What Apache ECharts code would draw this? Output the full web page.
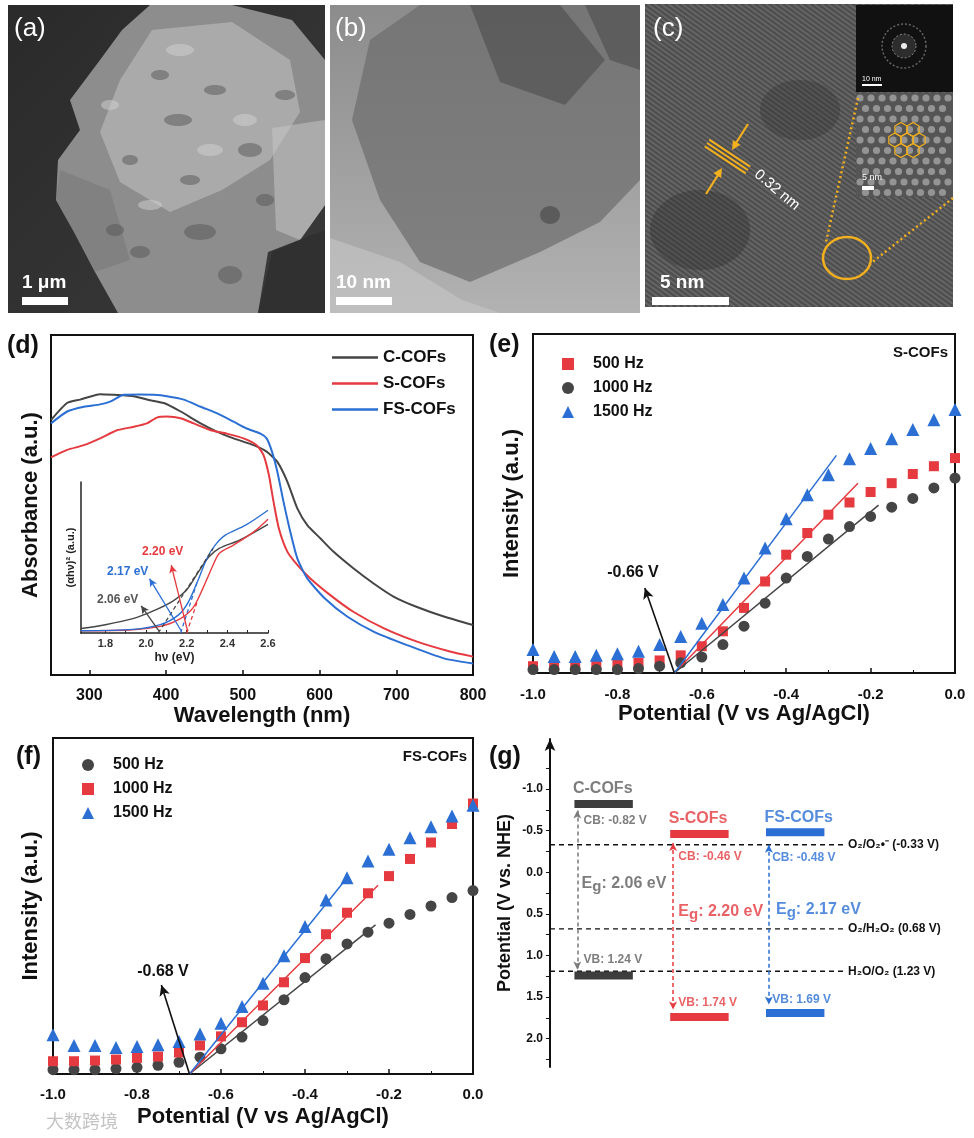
<!DOCTYPE html>
<html>
<head>
<meta charset="utf-8">
<title>COFs characterisation</title>
<script src="https://cdn.jsdelivr.net/npm/echarts@6.0.0/dist/echarts.min.js"></script>
<style>
  html, body { margin: 0; padding: 0; background: #fff; }
  #main { width: 974px; height: 1138px; }
</style>
</head>
<body>
<div id="main"></div>
<script>
const FONT = 'Arial, "Liberation Sans", sans-serif';
const RED = '#e53a3f', BLUE = '#2b6fd5', GRAY = '#454545', INK = '#111';

// ---- (d) UV-vis absorbance, wavelength (nm) vs absorbance (a.u.)
const wlC  = [250,271,288,314,332,358,375,397,419,445,466,488,514,531,545,558,571,584,601,618,644,670,697,727,762,800];
const absC = [0.75,0.80,0.81,0.826,0.824,0.82,0.81,0.80,0.775,0.74,0.716,0.696,0.676,0.657,0.627,0.569,0.49,0.441,0.402,0.363,0.314,0.27,0.23,0.20,0.172,0.147];
const wlS  = [250,271,293,314,336,358,375,388,401,419,436,458,479,501,518,527,534,540,547,558,571,588,614,644,684,727,770,800];
const absS = [0.64,0.662,0.676,0.696,0.72,0.73,0.74,0.757,0.76,0.755,0.74,0.72,0.71,0.696,0.676,0.647,0.588,0.51,0.431,0.363,0.324,0.284,0.235,0.186,0.137,0.098,0.069,0.054];
const wlFS  = [250,271,293,314,327,345,366,384,401,423,445,466,488,505,523,531,538,545,553,562,571,584,607,636,671,714,762,800];
const absFS = [0.74,0.775,0.789,0.796,0.804,0.824,0.825,0.824,0.82,0.81,0.789,0.77,0.745,0.725,0.71,0.696,0.657,0.598,0.51,0.42,0.343,0.284,0.225,0.172,0.127,0.088,0.049,0.034];

// inset: Tauc plot, hv (eV) vs (ahv)^2
const evC  = [1.68,1.8,1.935,2.03,2.13,2.2,2.26,2.31,2.36,2.46,2.6];
const tauC = [0.03,0.055,0.095,0.143,0.21,0.286,0.41,0.505,0.56,0.615,0.72];
const evS  = [1.68,1.935,2.07,2.16,2.23,2.28,2.33,2.36,2.43,2.53,2.6];
const tauS = [0.015,0.022,0.044,0.088,0.165,0.297,0.45,0.527,0.582,0.67,0.754];
const evFS  = [1.68,1.935,2.07,2.16,2.21,2.26,2.30,2.34,2.39,2.49,2.6];
const tauFS = [0.015,0.024,0.055,0.12,0.21,0.363,0.495,0.582,0.648,0.714,0.813];
const bandGaps = [2.06, 2.20, 2.17];            // C, S, FS
const tangentEnds = [[2.33, 0.56], [2.25, 0.2], [2.25, 0.33]];
const gapArrowTips = [[1.976, 0.18], [2.124, 0.45], [2.017, 0.36]];

// ---- (e)/(f) Mott-Schottky, potential (V vs Ag/AgCl)
const potentials = [-1.0,-0.95,-0.9,-0.85,-0.8,-0.75,-0.7,-0.65,-0.6,-0.55,-0.5,-0.45,-0.4,-0.35,-0.3,-0.25,-0.2,-0.15,-0.1,-0.05,0.0];
const s500  = [2.0,2.3,2.5,2.5,2.7,3.0,3.7,5.2,7.9,12.3,19.2,27.0,34.9,41.3,46.7,50.3,53.4,56.0,58.7,61.0,63.4];
const s1000 = [1.0,1.0,1.0,1.0,1.0,1.3,2.0,3.0,4.7,8.4,13.8,20.6,28.0,34.4,39.5,43.2,46.2,48.9,51.5,54.6,57.5];
const s1500 = [6.9,4.9,4.9,5.2,5.7,6.4,8.4,10.8,14.7,20.2,28.0,36.9,45.5,52.6,58.5,63.2,66.2,69.1,71.8,74.7,77.7];
const sOnset = -0.665;
const sFitEnds = { f500: [-0.230, 56.0], f1000: [-0.181, 49.5], f1500: [-0.281, 64.2] };
const sArrowTip = [-0.735, 25.1];

const fs500  = [1.3,1.3,1.3,1.6,2.0,2.6,3.5,5.0,7.5,11.0,15.9,22.1,28.7,34.3,38.7,42.2,44.9,47.5,50.0,52.5,54.6];
const fs1000 = [3.8,3.8,4.0,4.3,4.8,5.2,6.4,8.5,11.2,15.4,20.4,27.3,34.5,41.6,48.0,53.8,58.9,64.0,68.9,74.4,80.5];
const fs1500 = [11.7,8.5,8.5,7.9,8.2,8.7,9.7,11.9,15.1,20.1,27.0,35.2,43.9,51.8,58.4,63.4,66.9,70.3,73.6,76.8,80.0];
const fsOnset = -0.675;
const fsFitEnds = { f500: [-0.232, 44.4], f1000: [-0.226, 56.2], f1500: [-0.298, 58.7] };
const fsArrowTip = [-0.742, 26.5];

// ---- (g) band positions (V vs NHE)
const materials = ['C-COFs', 'S-COFs', 'FS-COFs'];
const cbLevels = [-0.82, -0.46, -0.48];
const vbLevels = [1.24, 1.74, 1.69];
const redoxLevels = [-0.33, 0.68, 1.19];
const redoxNames = ['O₂/O₂•⁻ (-0.33 V)', 'O₂/H₂O₂ (0.68 V)', 'H₂O/O₂ (1.23 V)'];
const arrowTop = [-0.74, -0.35, -0.33];
const arrowBottom = [1.17, 1.65, 1.59];
const cbLabelAt = [[0.79, -0.62], [1.78, -0.19], [2.76, -0.18]];
const egLabelAt = [[0.77, 0.14], [1.78, 0.47], [2.80, 0.45]];
const vbLabelAt = [[0.79, 1.05], [1.78, 1.565], [2.76, 1.53]];
const barColors = ['#3d3d3d', RED, BLUE];
const textColors = ['#5c5c5c', RED, BLUE];
const arrowColors = ['#7a7a7a', RED, BLUE];

const zip = (xs, ys) => xs.map((x, i) => [x, ys[i]]);

function txt(x, y, text, o = {}) {
  return { type: 'text', x, y, silent: true, rotation: o.rotation || 0, z: 50,
    style: { text, fill: o.color || INK, fontSize: o.size || 14, fontWeight: o.weight || 'bold',
      fontFamily: o.family || FONT, align: o.align || 'left', verticalAlign: o.valign || 'middle' } };
}
function poly(points, fill, opacity) {
  return { type: 'polygon', silent: true, shape: { points }, style: { fill, opacity: opacity == null ? 1 : opacity } };
}
function arrowHead(x1, y1, x2, y2, len, half, color) {
  const a = Math.atan2(y2 - y1, x2 - x1), c = Math.cos(a), s = Math.sin(a);
  const bx = x2 - c * len, by = y2 - s * len;
  return poly([[x2, y2], [bx - s * half, by + c * half], [bx + s * half, by - c * half]], color);
}

// micrograph stand-ins for (a), (b), (c)
function micrographs() {
  const g = [];
  // (a) SEM
  g.push({ type: 'rect', silent: true, shape: { x: 8, y: 5, width: 317, height: 308 },
    style: { fill: new echarts.graphic.LinearGradient(0, 0, 1, 1, [{ offset: 0, color: '#2a2a2a' }, { offset: 1, color: '#3a3a3a' }]) } });
  g.push(poly([[150,5],[232,5],[292,20],[325,60],[325,205],[300,240],[272,252],[258,313],[118,313],[95,272],[74,232],[56,200],[58,160],[80,130],[70,100],[100,60],[122,30]], '#8d8d8d'));
  g.push(poly([[152,30],[232,22],[290,60],[300,112],[270,160],[222,190],[170,212],[120,182],[100,132],[120,80]], '#b4b4b4', 0.75));
  g.push(poly([[272,128],[325,120],[325,205],[300,240],[276,230]], '#c4c4c4', 0.55));
  g.push(poly([[60,170],[110,190],[130,260],[95,272],[74,232],[56,200]], '#7a7a7a', 0.6));
  [[200,232,16,8],[140,252,10,6],[250,150,12,7],[178,120,14,6],[230,275,12,9],[115,230,9,6],[285,95,10,5],
   [160,75,9,5],[215,90,11,5],[130,160,8,5],[265,200,9,6],[190,180,10,5]].forEach(e =>
    g.push({ type: 'ellipse', silent: true, shape: { cx: e[0], cy: e[1], rx: e[2], ry: e[3] }, style: { fill: '#555', opacity: 0.5 } }));
  [[180,50,14,6],[245,120,12,6],[150,205,12,5],[210,150,13,6],[110,105,9,5]].forEach(e =>
    g.push({ type: 'ellipse', silent: true, shape: { cx: e[0], cy: e[1], rx: e[2], ry: e[3] }, style: { fill: '#d2d2d2', opacity: 0.5 } }));
  g.push(poly([[268,252],[325,230],[325,313],[258,313]], '#303030', 0.9));
  g.push({ type: 'rect', silent: true, shape: { x: 22, y: 297, width: 46, height: 8 }, style: { fill: '#fff' } });
  g.push(txt(22, 283, '1 μm', { color: '#fff', size: 19 }));
  g.push(txt(14, 29, '(a)', { color: '#fff', size: 26, weight: 'normal' }));

  // (b) TEM
  g.push({ type: 'rect', silent: true, shape: { x: 330, y: 5, width: 310, height: 308 },
    style: { fill: new echarts.graphic.LinearGradient(0, 0, 0, 1, [{ offset: 0, color: '#8c8c8c' }, { offset: 1, color: '#b2b2b2' }]) } });
  g.push(poly([[420,5],[640,5],[640,180],[600,222],[540,252],[470,282],[420,262],[380,200],[352,120],[370,40]], '#6c6c6c', 0.7));
  g.push(poly([[470,5],[560,5],[605,60],[565,105],[500,82]], '#3e3e3e', 0.45));
  g.push(poly([[585,5],[640,5],[640,70],[610,60]], '#444', 0.5));
  g.push(poly([[330,238],[400,262],[462,300],[500,313],[330,313]], '#c6c6c6', 0.6));
  g.push({ type: 'ellipse', silent: true, shape: { cx: 550, cy: 215, rx: 10, ry: 9 }, style: { fill: '#3a3a3a', opacity: 0.5 } });
  g.push({ type: 'rect', silent: true, shape: { x: 336, y: 297, width: 56, height: 8 }, style: { fill: '#fff' } });
  g.push(txt(336, 283, '10 nm', { color: '#fff', size: 19 }));
  g.push(txt(335, 29, '(b)', { color: '#fff', size: 26, weight: 'normal' }));

  // (c) HRTEM with lattice fringes
  const cx0 = 645, cy0 = 4, cw = 308, ch = 303, k = 0.72;
  g.push({ type: 'rect', silent: true, shape: { x: cx0, y: cy0, width: cw, height: ch }, style: { fill: '#4e4e4e' } });
  for (let b = cy0 - k * cw; b < cy0 + ch; b += 5) {
    let xa = Math.max(cx0 + (cy0 - b) / k, cx0), xb = Math.min(cx0 + (cy0 + ch - b) / k, cx0 + cw);
    if (xb <= xa) continue;
    g.push({ type: 'line', silent: true, shape: { x1: xa, y1: b + k * (xa - cx0), x2: xb, y2: b + k * (xb - cx0) },
      style: { stroke: 'rgba(255,255,255,0.14)', lineWidth: 1.6 } });
  }
  g.push({ type: 'ellipse', silent: true, shape: { cx: 700, cy: 230, rx: 50, ry: 40 }, style: { fill: '#2e2e2e', opacity: 0.35 } });
  g.push({ type: 'ellipse', silent: true, shape: { cx: 800, cy: 110, rx: 40, ry: 30 }, style: { fill: '#2e2e2e', opacity: 0.3 } });
  // FFT inset
  g.push({ type: 'rect', silent: true, shape: { x: 856, y: 5, width: 97, height: 87 }, style: { fill: '#111' } });
  g.push({ type: 'circle', silent: true, shape: { cx: 904, cy: 46, r: 22 }, style: { fill: 'none', stroke: 'rgba(255,255,255,0.35)', lineDash: [2, 2], lineWidth: 1.5 } });
  g.push({ type: 'circle', silent: true, shape: { cx: 904, cy: 46, r: 12 }, style: { fill: 'rgba(255,255,255,0.12)', stroke: 'rgba(255,255,255,0.45)', lineDash: [2, 2] } });
  g.push({ type: 'circle', silent: true, shape: { cx: 904, cy: 46, r: 3 }, style: { fill: 'rgba(255,255,255,0.9)' } });
  g.push({ type: 'rect', silent: true, shape: { x: 862, y: 84, width: 20, height: 2 }, style: { fill: '#fff' } });
  g.push(txt(862, 79, '10 nm', { color: '#fff', size: 7, weight: 'normal' }));
  // filtered lattice inset
  g.push({ type: 'rect', silent: true, shape: { x: 856, y: 93, width: 97, height: 104 }, style: { fill: '#555' } });
  for (let r = 0; r < 10; r++) {
    for (let x = 860 + (r % 2) * 5.5; x < 952; x += 11) {
      g.push({ type: 'circle', silent: true, shape: { cx: x, cy: 98 + r * 10.5, r: 3.6 }, style: { fill: 'rgba(235,235,235,0.42)' } });
    }
  }
  const hx = 907, hy = 140, hr = 7;
  const centres = [[hx, hy]];
  for (let i = 0; i < 6; i++) centres.push([hx + Math.sqrt(3) * hr * Math.cos(i * Math.PI / 3), hy + Math.sqrt(3) * hr * Math.sin(i * Math.PI / 3)]);
  centres.forEach(c => {
    const pts = [];
    for (let j = 0; j < 6; j++) pts.push([c[0] + hr * Math.cos(Math.PI / 6 + j * Math.PI / 3), c[1] + hr * Math.sin(Math.PI / 6 + j * Math.PI / 3)]);
    g.push({ type: 'polygon', silent: true, shape: { points: pts }, style: { fill: 'none', stroke: '#f2b01e', lineWidth: 1.2 } });
  });
  g.push({ type: 'rect', silent: true, shape: { x: 862, y: 186, width: 12, height: 4 }, style: { fill: '#fff' } });
  g.push(txt(862, 178, '5 nm', { color: '#fff', size: 9, weight: 'normal' }));
  // yellow annotations
  const Y = '#f2b01e';
  g.push({ type: 'ellipse', silent: true, shape: { cx: 847, cy: 258, rx: 24, ry: 21 }, style: { fill: 'none', stroke: Y, lineWidth: 2.5 } });
  g.push({ type: 'line', silent: true, shape: { x1: 858, y1: 98, x2: 826, y2: 242 }, style: { stroke: Y, lineWidth: 2.5, lineDash: [2, 3] } });
  g.push({ type: 'line', silent: true, shape: { x1: 953, y1: 198, x2: 870, y2: 264 }, style: { stroke: Y, lineWidth: 2.5, lineDash: [2, 3] } });
  const nx = -0.55, ny = 0.835;
  [-4, 0, 4].forEach(o => g.push({ type: 'line', silent: true,
    shape: { x1: 707 + nx * o, y1: 143 + ny * o, x2: 748 + nx * o, y2: 170 + ny * o }, style: { stroke: Y, lineWidth: 2 } }));
  g.push({ type: 'line', silent: true, shape: { x1: 748, y1: 124, x2: 736, y2: 143 }, style: { stroke: Y, lineWidth: 2.2 } });
  g.push(arrowHead(748, 124, 732, 150, 9, 4.5, Y));
  g.push({ type: 'line', silent: true, shape: { x1: 706, y1: 194, x2: 718, y2: 175 }, style: { stroke: Y, lineWidth: 2.2 } });
  g.push(arrowHead(706, 194, 722, 168, 9, 4.5, Y));
  g.push(txt(777, 190, '0.32 nm', { color: '#fff', size: 15, weight: 'normal', align: 'center', rotation: -0.7 }));
  g.push({ type: 'rect', silent: true, shape: { x: 652, y: 297, width: 77, height: 8 }, style: { fill: '#fff' } });
  g.push(txt(660, 283, '5 nm', { color: '#fff', size: 19 }));
  g.push(txt(653, 29, '(c)', { color: '#fff', size: 26, weight: 'normal' }));
  return g;
}

const annotations = [
  txt(7, 346, '(d)', { size: 25 }),
  txt(489, 345, '(e)', { size: 25 }),
  txt(16, 757, '(f)', { size: 25 }),
  txt(489, 757, '(g)', { size: 25 }),
  txt(97, 600, '2.06 eV', { color: '#555', size: 12 }),
  txt(107, 572, '2.17 eV', { color: BLUE, size: 12 }),
  txt(142, 552, '2.20 eV', { color: RED, size: 12 }),
  txt(948, 353, 'S-COFs', { size: 15, align: 'right' }),
  txt(633, 573, '-0.66 V', { size: 16, align: 'center' }),
  txt(467, 757, 'FS-COFs', { size: 15, align: 'right' }),
  txt(163, 972, '-0.68 V', { size: 16, align: 'center' }),
  txt(46, 1121, '大数跨境', { color: 'rgba(185,185,185,0.85)', size: 18, weight: 'normal', family: '"Noto Sans CJK SC"' })
];

const axisName = { color: INK, fontSize: 22, fontWeight: 'bold', fontFamily: FONT };
const tickLabel = { color: INK, fontSize: 15, fontWeight: 'bold', fontFamily: FONT };
const boxGrid = { show: true, borderColor: INK, borderWidth: 2, backgroundColor: 'transparent' };

function plainY(gridIndex, name, gap, max) {
  return { gridIndex, type: 'value', min: 0, max, name, nameLocation: 'middle', nameGap: gap,
    nameTextStyle: axisName, axisLine: { show: true, lineStyle: { color: INK, width: 2 } },
    axisTick: { show: false }, axisLabel: { show: false }, splitLine: { show: false } };
}
function potentialX(gridIndex, labelMargin, nameGap) {
  return { gridIndex, type: 'value', min: -1.0, max: 0.0, interval: 0.2,
    name: 'Potential (V vs Ag/AgCl)', nameLocation: 'middle', nameGap, nameTextStyle: axisName,
    axisLine: { lineStyle: { color: INK, width: 2 } },
    axisTick: { inside: true, length: 5, lineStyle: { color: INK, width: 1.5 } },
    minorTick: { show: true, splitNumber: 2, length: 3, lineStyle: { color: INK } },
    axisLabel: { ...tickLabel, margin: labelMargin, formatter: v => v.toFixed(1) }, splitLine: { show: false } };
}

function scatter(name, gi, ys, symbol, size, color) {
  return { name, type: 'scatter', xAxisIndex: gi, yAxisIndex: gi, data: zip(potentials, ys),
    symbol, symbolSize: size, itemStyle: { color, opacity: 1 }, z: 3 };
}
function fit(name, gi, onset, end, color, extra) {
  return Object.assign({ name, type: 'line', xAxisIndex: gi, yAxisIndex: gi, data: [[onset, 0], end],
    symbol: 'none', lineStyle: { color, width: 1.5 }, z: 4 }, extra || {});
}
function onsetArrow(onset, tip) {
  return { silent: true, symbol: ['none', 'arrow'], symbolSize: [8, 11], label: { show: false },
    lineStyle: { color: INK, width: 1.6, type: 'solid' }, data: [[{ coord: [onset, 0] }, { coord: tip }]] };
}

const gXMin = 0.44, gXMax = 3.52, bandBarWidth = 0.61, arrowShift = -0.275;

const series = [
  // (d) main spectra
  { name: 'C-COFs', type: 'line', xAxisIndex: 0, yAxisIndex: 0, data: zip(wlC, absC), symbol: 'none', smooth: 0.2, lineStyle: { color: GRAY, width: 2 }, itemStyle: { color: GRAY } },
  { name: 'S-COFs', type: 'line', xAxisIndex: 0, yAxisIndex: 0, data: zip(wlS, absS), symbol: 'none', smooth: 0.2, lineStyle: { color: RED, width: 2 }, itemStyle: { color: RED } },
  { name: 'FS-COFs', type: 'line', xAxisIndex: 0, yAxisIndex: 0, data: zip(wlFS, absFS), symbol: 'none', smooth: 0.2, lineStyle: { color: BLUE, width: 2 }, itemStyle: { color: BLUE } },
  // (d) inset Tauc plot
  { name: 'C-COFs', type: 'line', xAxisIndex: 1, yAxisIndex: 1, data: zip(evC, tauC), symbol: 'none', smooth: 0.3, lineStyle: { color: GRAY, width: 1.4 } },
  { name: 'S-COFs', type: 'line', xAxisIndex: 1, yAxisIndex: 1, data: zip(evS, tauS), symbol: 'none', smooth: 0.3, lineStyle: { color: RED, width: 1.4 } },
  { name: 'FS-COFs', type: 'line', xAxisIndex: 1, yAxisIndex: 1, data: zip(evFS, tauFS), symbol: 'none', smooth: 0.3, lineStyle: { color: BLUE, width: 1.4 } },
  ...[GRAY, RED, BLUE].map((c, i) => ({
    name: 'tangent ' + i, type: 'line', xAxisIndex: 1, yAxisIndex: 1,
    data: [[bandGaps[i], 0], tangentEnds[i]], symbol: 'none', lineStyle: { color: c, width: 1.3, type: [4, 3] },
    markLine: { silent: true, symbol: ['none', 'arrow'], symbolSize: [6, 8], label: { show: false },
      lineStyle: { color: c, width: 1.3, type: 'solid' },
      data: [[{ coord: [bandGaps[i] + 0.005, 0.01] }, { coord: gapArrowTips[i] }]] }
  })),
  // (e) S-COFs
  scatter('500 Hz', 2, s500, 'rect', 10, RED),
  scatter('1000 Hz', 2, s1000, 'circle', 11, GRAY),
  scatter('1500 Hz', 2, s1500, 'triangle', 13, BLUE),
  fit('e fit 500', 2, sOnset, sFitEnds.f500, RED),
  fit('e fit 1000', 2, sOnset, sFitEnds.f1000, GRAY, { markLine: onsetArrow(sOnset, sArrowTip) }),
  fit('e fit 1500', 2, sOnset, sFitEnds.f1500, BLUE),
  // (f) FS-COFs
  scatter('500 Hz', 3, fs500, 'circle', 11, GRAY),
  scatter('1000 Hz', 3, fs1000, 'rect', 10, RED),
  scatter('1500 Hz', 3, fs1500, 'triangle', 13, BLUE),
  fit('f fit 500', 3, fsOnset, fsFitEnds.f500, GRAY, { markLine: onsetArrow(fsOnset, fsArrowTip) }),
  fit('f fit 1000', 3, fsOnset, fsFitEnds.f1000, RED),
  fit('f fit 1500', 3, fsOnset, fsFitEnds.f1500, BLUE),
  // (g) band edges
  { name: 'bands', type: 'custom', xAxisIndex: 4, yAxisIndex: 4, z: 3,
    data: materials.flatMap((m, i) => [[i + 1, cbLevels[i], i], [i + 1, vbLevels[i], i]]),
    renderItem: (params, api) => {
      const p = api.coord([api.value(0), api.value(1)]);
      const w = api.size([bandBarWidth, 0])[0];
      return { type: 'rect', shape: { x: p[0] - w / 2, y: p[1] - 4, width: w, height: 8 }, style: { fill: barColors[api.value(2)] } };
    } },
  ...redoxLevels.map((v, i) => ({
    name: redoxNames[i], type: 'line', xAxisIndex: 4, yAxisIndex: 4, data: [[gXMin, v], [gXMax, v]],
    symbol: 'none', lineStyle: { color: INK, width: 1.3, type: [5, 4] }, z: 2,
    endLabel: { show: true, formatter: redoxNames[i], color: INK, fontSize: 12, fontWeight: 'bold', fontFamily: FONT, distance: 3 },
    markLine: i !== 0 ? undefined : {
      silent: true, symbol: ['arrow', 'arrow'], symbolSize: [6, 8], label: { show: false },
      data: materials.map((m, j) => [
        { coord: [j + 1 + arrowShift, arrowTop[j]], lineStyle: { color: arrowColors[j], width: 1.5, type: [4, 3] } },
        { coord: [j + 1 + arrowShift, arrowBottom[j]] }])
    }
  })),
  { name: 'band labels', type: 'scatter', xAxisIndex: 4, yAxisIndex: 4, symbolSize: 0, silent: true, z: 5,
    data: materials.flatMap((m, i) => {
      const base = { show: true, position: 'right', distance: 0, color: textColors[i], fontWeight: 'bold', fontFamily: FONT };
      return [
        { value: [i + 1 - 0.32, cbLevels[i] - 0.18], label: { ...base, formatter: m, fontSize: 16 } },
        { value: cbLabelAt[i], label: { ...base, formatter: 'CB: ' + cbLevels[i].toFixed(2) + ' V', fontSize: 12 } },
        { value: vbLabelAt[i], label: { ...base, formatter: 'VB: ' + vbLevels[i].toFixed(2) + ' V', fontSize: 12 } },
        { value: egLabelAt[i], label: { ...base, formatter: '{e|E}{g|g}{e|: ' + bandGaps[i].toFixed(2) + ' eV}',
            rich: { e: { fontSize: 16, fontWeight: 'bold', color: textColors[i], lineHeight: 22, fontFamily: FONT },
                    g: { fontSize: 15, fontWeight: 'bold', color: textColors[i], verticalAlign: 'bottom', fontFamily: FONT } } } }
      ];
    }) }
];

const legendText = { color: INK, fontSize: 16, fontWeight: 'bold', fontFamily: FONT, padding: [0, 0, 0, 14] };

const option = {
  animation: false,
  backgroundColor: '#fff',
  textStyle: { fontFamily: FONT },
  graphic: { elements: micrographs().concat(annotations) },
  grid: [
    { left: 51, top: 335, width: 422, height: 340, ...boxGrid },
    { left: 81, top: 482, width: 187, height: 151, show: false },
    { left: 533, top: 334, width: 422, height: 339, ...boxGrid },
    { left: 53, top: 738, width: 420, height: 336, ...boxGrid },
    { left: 550, top: 739, width: 295, height: 328, show: false }
  ],
  xAxis: [
    { gridIndex: 0, type: 'value', min: 250, max: 800, name: 'Wavelength (nm)', nameLocation: 'middle', nameGap: 29,
      nameTextStyle: axisName, axisLine: { lineStyle: { color: INK, width: 2 } },
      axisTick: { inside: true, length: 5, customValues: [300, 400, 500, 600, 700, 800], lineStyle: { color: INK, width: 1.5 } },
      axisLabel: { ...tickLabel, fontSize: 16, margin: 13, customValues: [300, 400, 500, 600, 700, 800] }, splitLine: { show: false } },
    { gridIndex: 1, type: 'value', min: 1.68, max: 2.6, name: 'hν (eV)', nameLocation: 'middle', nameGap: 19,
      nameTextStyle: { color: '#222', fontSize: 12, fontWeight: 'bold', fontFamily: FONT },
      axisLine: { lineStyle: { color: '#222', width: 1.5 } },
      axisTick: { inside: true, length: 3, customValues: [1.8, 1.9, 2.0, 2.1, 2.2, 2.3, 2.4, 2.5, 2.6], lineStyle: { color: '#222' } },
      axisLabel: { color: '#333', fontSize: 11, fontWeight: 'bold', fontFamily: FONT, margin: 5,
        customValues: [1.8, 2.0, 2.2, 2.4, 2.6], formatter: v => v.toFixed(1) }, splitLine: { show: false } },
    potentialX(2, 14, 29),
    potentialX(3, 13, 32),
    { gridIndex: 4, type: 'value', min: gXMin, max: gXMax, show: false }
  ],
  yAxis: [
    plainY(0, 'Absorbance (a.u.)', 9, 1),
    { gridIndex: 1, type: 'value', min: 0, max: 1, name: '(αhν)² (a.u.)', nameLocation: 'middle', nameGap: 5,
      nameTextStyle: { color: '#222', fontSize: 11, fontWeight: 'bold', fontFamily: FONT },
      axisLine: { show: true, lineStyle: { color: '#222', width: 1.5 } }, axisTick: { show: false },
      axisLabel: { show: false }, splitLine: { show: false } },
    plainY(2, 'Intensity (a.u.)', 10, 100),
    plainY(3, 'Intensity (a.u.)', 11, 100),
    { gridIndex: 4, type: 'value', inverse: true, min: -1.6, max: 2.34,
      name: 'Potential (V vs. NHE)', nameLocation: 'middle', nameGap: 36,
      nameTextStyle: { color: INK, fontSize: 18, fontWeight: 'bold', fontFamily: FONT },
      axisLine: { show: true, symbol: ['none', 'arrow'], symbolSize: [8, 12], lineStyle: { color: INK, width: 2 } },
      axisTick: { show: true, length: 4, customValues: [-1.5,-1.25,-1.0,-0.75,-0.5,-0.25,0,0.25,0.5,0.75,1.0,1.25,1.5,1.75,2.0,2.25], lineStyle: { color: INK } },
      axisLabel: { color: INK, fontSize: 12, fontWeight: 'bold', fontFamily: FONT, margin: 7,
        customValues: [-1.0, -0.5, 0, 0.5, 1.0, 1.5, 2.0], formatter: v => v.toFixed(1) },
      splitLine: { show: false } }
  ],
  legend: [
    { data: ['C-COFs', 'S-COFs', 'FS-COFs'].map((n, i) => ({ name: n, icon: 'rect', itemStyle: { color: [GRAY, RED, BLUE][i] } })),
      orient: 'vertical', left: 327, top: 344, itemWidth: 46, itemHeight: 2.5,
      itemGap: 9, selectedMode: false, textStyle: { color: INK, fontSize: 17, fontWeight: 'bold', fontFamily: FONT, lineHeight: 17 } },
    { data: [{ name: '500 Hz', icon: 'rect', itemStyle: { color: RED } },
             { name: '1000 Hz', icon: 'circle', itemStyle: { color: GRAY } },
             { name: '1500 Hz', icon: 'triangle', itemStyle: { color: BLUE } }],
      orient: 'vertical', left: 557, top: 350, itemWidth: 12, itemHeight: 12, itemGap: 6, selectedMode: false,
      textStyle: { ...legendText, lineHeight: 18 } },
    { data: [{ name: '500 Hz', icon: 'circle', itemStyle: { color: GRAY } },
             { name: '1000 Hz', icon: 'rect', itemStyle: { color: RED } },
             { name: '1500 Hz', icon: 'triangle', itemStyle: { color: BLUE } }],
      orient: 'vertical', left: 77, top: 751, itemWidth: 12, itemHeight: 12, itemGap: 6, selectedMode: false,
      textStyle: { ...legendText, lineHeight: 18 } }
  ],
  series
};

const chart = echarts.init(document.getElementById('main'));
chart.setOption(option);
</script>
</body>
</html>
